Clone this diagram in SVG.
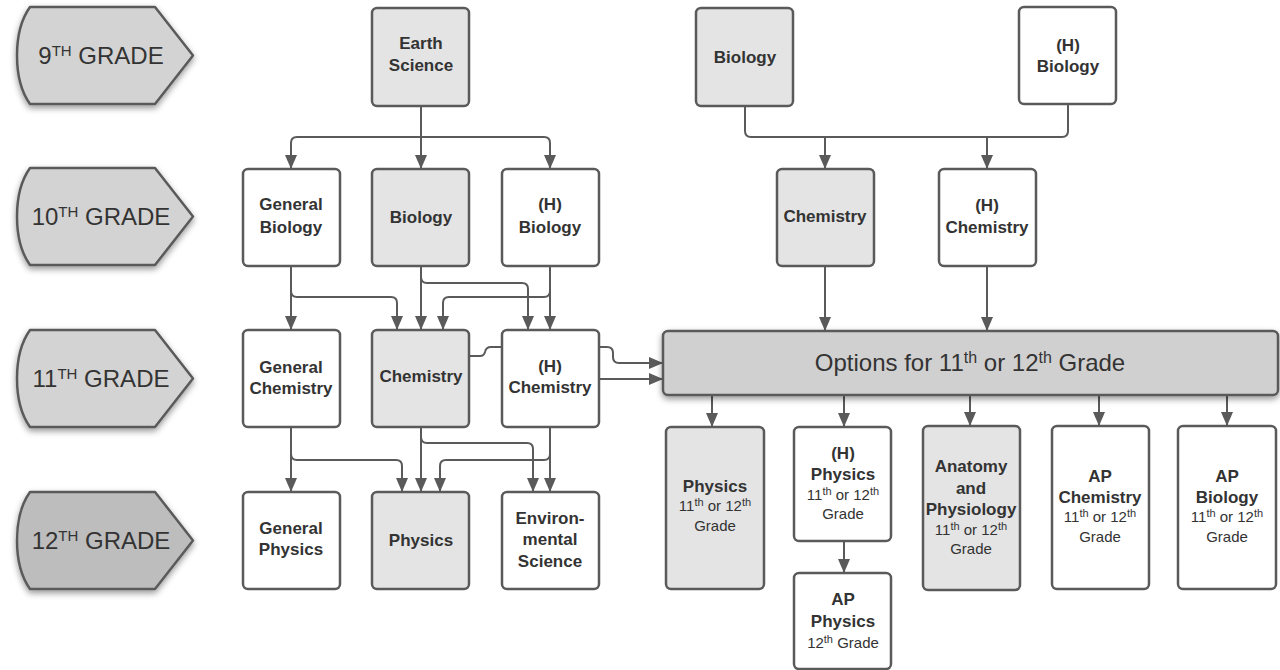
<svg xmlns="http://www.w3.org/2000/svg" width="1280" height="670" viewBox="0 0 1280 670">
<defs>
  <filter id="sh" x="-10%" y="-20%" width="120%" height="150%">
    <feDropShadow dx="0" dy="3" stdDeviation="3" flood-color="#000" flood-opacity="0.4"/>
  </filter>
  <marker id="ah" markerUnits="userSpaceOnUse" markerWidth="14" markerHeight="12" viewBox="0 0 14 12" refX="14" refY="6" orient="auto">
    <path d="M0,0 L14,6 L0,12 Z" fill="#5a5a5a"/>
  </marker>
  <style>
    .chev{fill:#d3d3d3;stroke:#5a5a5a;stroke-width:2.5;stroke-linejoin:round;filter:url(#sh)}
    .chev.dark{fill:#bdbdbd}
    .gt{font-family:"Liberation Sans",Arial,sans-serif;font-size:24px;fill:#333;text-anchor:middle}
    .box{fill:#fff;stroke:#5a5a5a;stroke-width:2.5}
    .box.g{fill:#e4e4e4}
    .opt{fill:#d0d0d0;stroke:#5a5a5a;stroke-width:2.5;filter:url(#sh)}
    .b{font-family:"Liberation Sans",Arial,sans-serif;font-weight:bold;font-size:17px;fill:#333;text-anchor:middle}
    .n{font-family:"Liberation Sans",Arial,sans-serif;font-size:15px;fill:#333;text-anchor:middle}
    .ot{font-family:"Liberation Sans",Arial,sans-serif;font-size:24px;fill:#333;text-anchor:middle}
    .c path{fill:none;stroke:#5a5a5a;stroke-width:2}
  </style>
</defs>
<rect width="1280" height="670" fill="#fff"/>

<g id="grade9">
  <path class="chev" d="M30,7 H155 L193,55.5 L155,104 H30 C20,90 17,72 17,55.5 C17,39 20,21 30,7 Z"/>
  <text class="gt" x="101" y="64">9<tspan font-size="15" dy="-8">TH</tspan><tspan dy="8"> GRADE</tspan></text>
</g>
<g id="grade10">
  <path class="chev" d="M30,168 H155 L193,216.5 L155,265 H30 C20,251 17,233 17,216.5 C17,200 20,182 30,168 Z"/>
  <text class="gt" x="101" y="225">10<tspan font-size="15" dy="-8">TH</tspan><tspan dy="8"> GRADE</tspan></text>
</g>
<g id="grade11">
  <path class="chev" d="M30,330 H155 L193,378.5 L155,427 H30 C20,413 17,395 17,378.5 C17,362 20,344 30,330 Z"/>
  <text class="gt" x="101" y="387">11<tspan font-size="15" dy="-8">TH</tspan><tspan dy="8"> GRADE</tspan></text>
</g>
<g id="grade12">
  <path class="chev dark" d="M30,492 H155 L193,540.5 L155,589 H30 C20,575 17,557 17,540.5 C17,524 20,506 30,492 Z"/>
  <text class="gt" x="101" y="549">12<tspan font-size="15" dy="-8">TH</tspan><tspan dy="8"> GRADE</tspan></text>
</g>

<g class="c" id="connectors">
  <path d="M421,106 V169" marker-end="url(#ah)"/>
  <path d="M421,137 H297 Q291,137 291,143 V169" marker-end="url(#ah)"/>
  <path d="M421,137 H544 Q550,137 550,143 V169" marker-end="url(#ah)"/>
  <path d="M745,106 V131 Q745,137 751,137 H1062 Q1068,137 1068,131 V104"/>
  <path d="M825,137 V169" marker-end="url(#ah)"/>
  <path d="M987,137 V169" marker-end="url(#ah)"/>

  <path d="M291,266 V330" marker-end="url(#ah)"/>
  <path d="M291,291 Q291,297 297,297 H391 Q397,297 397,303 V330" marker-end="url(#ah)"/>
  <path d="M421,266 V330" marker-end="url(#ah)"/>
  <path d="M421,277 Q421,283 427,283 H522 Q528,283 528,289 V330" marker-end="url(#ah)"/>
  <path d="M550,266 V330" marker-end="url(#ah)"/>
  <path d="M550,291 Q550,297 544,297 H449 Q443,297 443,303 V330" marker-end="url(#ah)"/>

  <path d="M291,427 V492" marker-end="url(#ah)"/>
  <path d="M291,454 Q291,460 297,460 H396 Q402,460 402,466 V492" marker-end="url(#ah)"/>
  <path d="M421,427 V492" marker-end="url(#ah)"/>
  <path d="M421,437 Q421,443 427,443 H527 Q533,443 533,449 V492" marker-end="url(#ah)"/>
  <path d="M550,427 V492" marker-end="url(#ah)"/>
  <path d="M550,454 Q550,460 544,460 H446 Q440,460 440,466 V492" marker-end="url(#ah)"/>

  <path d="M469,356 H480 Q484,356 485,352 Q486,347 491,347 H607 Q613,347 613,353 V357 Q613,363 619,363 H663" marker-end="url(#ah)"/>
  <path d="M599,379 H663" marker-end="url(#ah)"/>
  <path d="M825,266 V331" marker-end="url(#ah)"/>
  <path d="M987,266 V331" marker-end="url(#ah)"/>

  <path d="M712,395 V427" marker-end="url(#ah)"/>
  <path d="M844,395 V427" marker-end="url(#ah)"/>
  <path d="M970,395 V426" marker-end="url(#ah)"/>
  <path d="M1099,395 V426" marker-end="url(#ah)"/>
  <path d="M1227,395 V426" marker-end="url(#ah)"/>
  <path d="M844,541 V573" marker-end="url(#ah)"/>
</g>

<g id="earth-science"><rect class="box g" x="372" y="8" width="97" height="98" rx="5"/>
  <text class="b" x="421" y="49">Earth</text><text class="b" x="421" y="71">Science</text></g>
<g id="biology-9"><rect class="box g" x="696" y="8" width="97" height="98" rx="5"/>
  <text class="b" x="745" y="63">Biology</text></g>
<g id="hbiology-9"><rect class="box" x="1019" y="7" width="97" height="97" rx="5"/>
  <text class="b" x="1068" y="51">(H)</text><text class="b" x="1068" y="72">Biology</text></g>

<g id="general-biology"><rect class="box" x="243" y="169" width="97" height="97" rx="5"/>
  <text class="b" x="291" y="210">General</text><text class="b" x="291" y="233">Biology</text></g>
<g id="biology-10"><rect class="box g" x="372" y="169" width="97" height="97" rx="5"/>
  <text class="b" x="421" y="223">Biology</text></g>
<g id="hbiology-10"><rect class="box" x="502" y="169" width="97" height="97" rx="5"/>
  <text class="b" x="550" y="210">(H)</text><text class="b" x="550" y="233">Biology</text></g>
<g id="chemistry-10"><rect class="box g" x="777" y="169" width="97" height="97" rx="5"/>
  <text class="b" x="825" y="222">Chemistry</text></g>
<g id="hchemistry-10"><rect class="box" x="939" y="169" width="97" height="97" rx="5"/>
  <text class="b" x="987" y="211">(H)</text><text class="b" x="987" y="233">Chemistry</text></g>

<g id="general-chemistry"><rect class="box" x="243" y="330" width="97" height="97" rx="5"/>
  <text class="b" x="291" y="373">General</text><text class="b" x="291" y="394">Chemistry</text></g>
<g id="chemistry-11"><rect class="box g" x="372" y="330" width="97" height="97" rx="5"/>
  <text class="b" x="421" y="382">Chemistry</text></g>
<g id="hchemistry-11"><rect class="box" x="502" y="330" width="97" height="97" rx="5"/>
  <text class="b" x="550" y="372">(H)</text><text class="b" x="550" y="393">Chemistry</text></g>

<g id="options"><rect class="opt" x="663" y="331" width="615" height="64" rx="5"/>
  <text class="ot" x="970" y="371">Options for 11<tspan font-size="16" dy="-8">th</tspan><tspan dy="8"> or 12</tspan><tspan font-size="16" dy="-8">th</tspan><tspan dy="8"> Grade</tspan></text></g>

<g id="general-physics"><rect class="box" x="243" y="492" width="97" height="97" rx="5"/>
  <text class="b" x="291" y="534">General</text><text class="b" x="291" y="555">Physics</text></g>
<g id="physics-12"><rect class="box g" x="372" y="492" width="97" height="97" rx="5"/>
  <text class="b" x="421" y="546">Physics</text></g>
<g id="environmental-science"><rect class="box" x="502" y="492" width="97" height="97" rx="5"/>
  <text class="b" x="550" y="524">Environ-</text><text class="b" x="550" y="545">mental</text><text class="b" x="550" y="567">Science</text></g>

<g id="physics-opt"><rect class="box g" x="666" y="427" width="98" height="162" rx="5"/>
  <text class="b" x="715" y="492">Physics</text>
  <text class="n" x="715" y="511">11<tspan font-size="11" dy="-5">th</tspan><tspan dy="5"> or 12</tspan><tspan font-size="11" dy="-5">th</tspan></text>
  <text class="n" x="715" y="531">Grade</text></g>
<g id="hphysics-opt"><rect class="box" x="794" y="427" width="97" height="114" rx="5"/>
  <text class="b" x="843" y="459">(H)</text><text class="b" x="843" y="480">Physics</text>
  <text class="n" x="843" y="500">11<tspan font-size="11" dy="-5">th</tspan><tspan dy="5"> or 12</tspan><tspan font-size="11" dy="-5">th</tspan></text>
  <text class="n" x="843" y="519">Grade</text></g>
<g id="apphysics"><rect class="box" x="794" y="573" width="97" height="96" rx="5"/>
  <text class="b" x="843" y="605">AP</text><text class="b" x="843" y="627">Physics</text>
  <text class="n" x="843" y="648">12<tspan font-size="11" dy="-5">th</tspan><tspan dy="5"> Grade</tspan></text></g>
<g id="anatomy"><rect class="box g" x="923" y="426" width="97" height="164" rx="5"/>
  <text class="b" x="971" y="472">Anatomy</text><text class="b" x="971" y="494">and</text><text class="b" x="971" y="515">Physiology</text>
  <text class="n" x="971" y="535">11<tspan font-size="11" dy="-5">th</tspan><tspan dy="5"> or 12</tspan><tspan font-size="11" dy="-5">th</tspan></text>
  <text class="n" x="971" y="554">Grade</text></g>
<g id="apchemistry"><rect class="box" x="1052" y="426" width="97" height="163" rx="5"/>
  <text class="b" x="1100" y="482">AP</text><text class="b" x="1100" y="503">Chemistry</text>
  <text class="n" x="1100" y="522">11<tspan font-size="11" dy="-5">th</tspan><tspan dy="5"> or 12</tspan><tspan font-size="11" dy="-5">th</tspan></text>
  <text class="n" x="1100" y="542">Grade</text></g>
<g id="apbiology"><rect class="box" x="1178" y="426" width="98" height="163" rx="5"/>
  <text class="b" x="1227" y="482">AP</text><text class="b" x="1227" y="503">Biology</text>
  <text class="n" x="1227" y="522">11<tspan font-size="11" dy="-5">th</tspan><tspan dy="5"> or 12</tspan><tspan font-size="11" dy="-5">th</tspan></text>
  <text class="n" x="1227" y="542">Grade</text></g>
</svg>
